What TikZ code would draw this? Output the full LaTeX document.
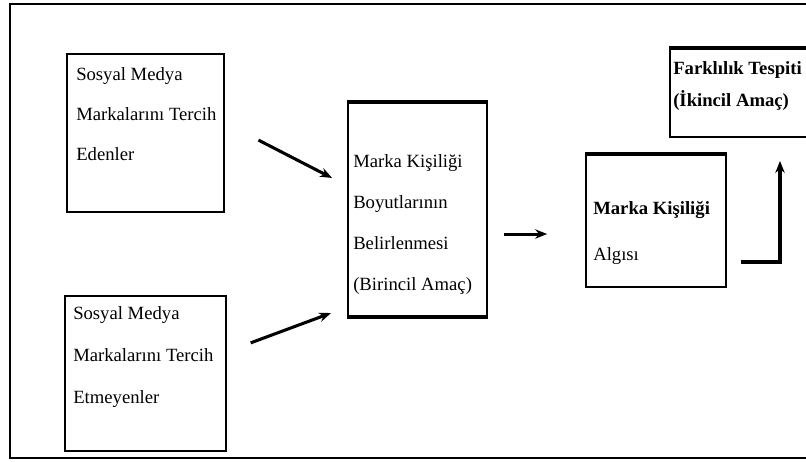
\documentclass[tikz,border=0pt]{standalone}
\usepackage{fontspec}
\setmainfont{Liberation Serif}
\usetikzlibrary{arrows.meta}

\tikzset{
  box/.style={draw, line width=1pt, inner sep=0pt, fill=white},
  txt/.style={anchor=base west, inner sep=0pt, font=\fontsize{14}{16}\selectfont},
  arr/.style={line width=2.3pt, -{Stealth[length=9pt,width=7pt]}},
}

\begin{document}
\begin{tikzpicture}[%
      x=0.75pt,
      y=-0.75pt,
      ]
      \useasboundingbox (0,0) rectangle (806,461);
      \clip (0,0) rectangle (806,461);
      \draw [line width=1.5pt] (10,4) rectangle (830,458);

      % boxes
      \node[box, minimum width=117.75pt, minimum height=118.5pt] (b1) at (145.5,133) {};
      \node[box, minimum width=120.75pt, minimum height=116.25pt] (b2) at (145.5,373.5) {};
      \node[box, line width=1.5pt, minimum width=104.25pt, minimum height=159.75pt] (b3) at (417.5,209.5) {};
      \node[box, line width=1.2pt, minimum width=105pt, minimum height=99pt] (b4) at (656,221) {};
      \node[box, line width=1.2pt, minimum width=165pt, minimum height=66pt] (b5) at (780,93) {};

      \draw [line width=3pt] (b3.north west) -- (b3.north east);
      \draw [line width=3pt] (b3.south west) -- (b3.south east);
      \draw [line width=3pt] (b4.north west) -- (b4.north east);
      \draw [line width=3pt] (b5.north west) -- (b5.north east);

      % texts
      \node[txt] (t11) at (76,80) {Sosyal Medya};
      \node[txt] (t12) at (76,120) {Markalarını Tercih};
      \node[txt] (t13) at (76,160) {Edenler};

      \node[txt] (t21) at (73,319) {Sosyal Medya};
      \node[txt] (t22) at (73,361) {Markalarını Tercih};
      \node[txt] (t23) at (73,403) {Etmeyenler};

      \node[txt] (t31) at (353,167) {Marka Kişiliği};
      \node[txt] (t32) at (353,208) {Boyutlarının};
      \node[txt] (t33) at (353,249) {Belirlenmesi};
      \node[txt] (t34) at (353,290) {(Birincil Amaç)};

      \node[txt, font=\fontsize{14}{16}\selectfont\bfseries] (t41) at (593,214) {Marka Kişiliği};
      \node[txt] (t42) at (593,260) {Algısı};

      \node[txt, font=\fontsize{14}{16}\selectfont\bfseries] (t51) at (673,74) {Farklılık Tespiti};
      \node[txt, font=\fontsize{14}{16}\selectfont\bfseries] (t52) at (673,106) {(İkincil Amaç)};

      % arrows
      \draw [arr, shorten <=28.5pt, shorten >=12.6pt] ([yshift=7.7pt]b1.east) -- ([yshift=17.9pt]b3.west);
      \draw [arr, shorten <=19.2pt, shorten >=12.8pt] ([yshift=16.3pt]b2.east) -- ([yshift=-73.2pt]b3.west);
      \draw [arr, shorten <=12pt, shorten >=28.5pt] ([yshift=-18.4pt]b3.east) -- ([yshift=-18.4pt]b3.east -| b4.west);
      \draw [arr, shorten <=10.5pt, shorten >=17.3pt] ([yshift=-30.75pt]b4.east) -| ([xshift=0pt]b5.south);
      \end{tikzpicture}
\end{document}
